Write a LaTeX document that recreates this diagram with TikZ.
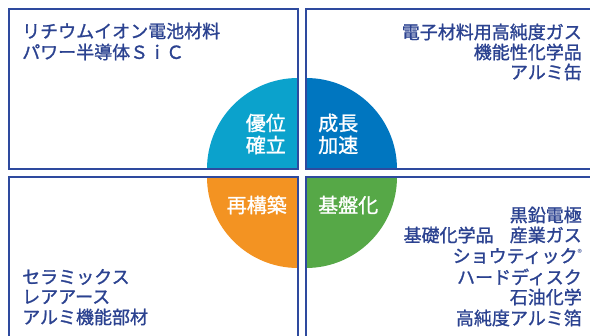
\documentclass[tikz,border=0pt]{standalone}
\usepackage{fontspec}
\newfontfamily\jp[FakeBold=1.2]{Noto Sans CJK JP}
\newfontfamily\jpreg{Noto Sans CJK JP}
\definecolor{frameblue}{HTML}{2E4A9E}
\definecolor{textblue}{HTML}{2B4290}
\definecolor{qlight}{HTML}{0BA2CC}
\definecolor{qblue}{HTML}{0076C0}
\definecolor{qorange}{HTML}{F39322}
\definecolor{qgreen}{HTML}{56A847}
\tikzset{
  frame/.style={draw=frameblue, line width=2.6pt},
  itemtext/.style={text=textblue, font=\jp\fontsize{18}{20.6}\selectfont, inner sep=0pt},
  circtext/.style={text=white, font=\jp\fontsize{20}{22}\selectfont, inner sep=0pt},
}
\begin{document}
\begin{tikzpicture}[x=1pt,y=-1pt]
\useasboundingbox (0,0) rectangle (590,336);
% quarter circles
\begin{scope}
  \clip (9,9) rectangle (298,169);
  \fill[qlight] (298,169) circle (91);
\end{scope}
\begin{scope}
  \clip (306,9) rectangle (600,169);
  \fill[qblue] (306,169) circle (91);
\end{scope}
\begin{scope}
  \clip (9,177) rectangle (298,345);
  \fill[qorange] (298,177) circle (91);
\end{scope}
\begin{scope}
  \clip (306,177) rectangle (600,345);
  \fill[qgreen] (306,177) circle (91);
\end{scope}
% frames
\draw[frame] (9,9) rectangle (298,169);
\draw[frame] (600,9) -- (306,9) -- (306,169) -- (600,169);
\draw[frame] (9,345) -- (9,177) -- (298,177) -- (298,345);
\draw[frame] (306,345) -- (306,177) -- (600,177);
% circle labels
\node[circtext, anchor=east] (a1) at (286,123) {優位};
\node[circtext, anchor=east] (a2) at (286,145) {確立};
\node[circtext, anchor=west] (b1) at (318,123) {成長};
\node[circtext, anchor=west] (b2) at (318,145) {加速};
\node[circtext, anchor=east] (c1) at (287,205) {再構築};
\node[circtext, anchor=west] (d1) at (318,205) {基盤化};
% texts
\node[itemtext, anchor=west] (t1) at (22,31) {リチウムイオン電池材料};
\node[itemtext, anchor=west] (t2) at (22,52) {パワー半導体ＳｉＣ};
\node[itemtext, anchor=east] (r1) at (582,32) {電子材料用高純度ガス};
\node[itemtext, anchor=east] (r2) at (582,52) {機能性化学品};
\node[itemtext, anchor=east] (r3) at (582,72) {アルミ缶};
\node[itemtext, anchor=west] (l1) at (22,277) {セラミックス};
\node[itemtext, anchor=west] (l2) at (22,297) {レアアース};
\node[itemtext, anchor=west] (l3) at (22,317) {アルミ機能部材};
\node[itemtext, anchor=east] (g1) at (582,215) {黒鉛電極};
\node[itemtext, anchor=east] (g2) at (582,235) {基礎化学品\hspace{0.9em}産業ガス};
\node[itemtext, anchor=east] (g3) at (582,256) {ショウティック\raisebox{0.35em}{\jpreg\fontsize{9}{9}\selectfont ®}};
\node[itemtext, anchor=east] (g4) at (582,277) {ハードディスク};
\node[itemtext, anchor=east] (g5) at (582,297) {石油化学};
\node[itemtext, anchor=east] (g6) at (582,318) {高純度アルミ箔};
\end{tikzpicture}
\end{document}
